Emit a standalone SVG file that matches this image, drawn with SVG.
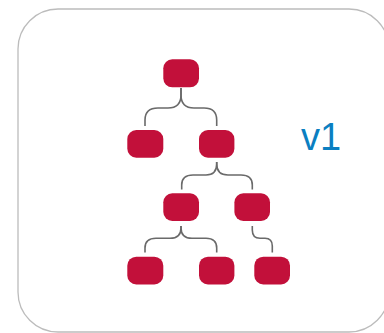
<svg xmlns="http://www.w3.org/2000/svg" width="384" height="333" viewBox="0 0 384 333">
  <style>
    .frame { fill: #ffffff; stroke: #bcbcbc; stroke-width: 1.3; }
    .node { fill: #c2103a; }
    .link { fill: none; stroke: #6a6a6a; stroke-width: 1.6; }
    .label { font-family: "Liberation Sans", Arial, sans-serif; font-size: 38px; fill: #0b7fc1; }
  </style>
  <rect width="384" height="333" fill="#ffffff"/>
  <rect class="frame" x="18" y="9" width="371" height="323" rx="40" ry="40"/>

  <g id="connectors">
    <!-- root to second level -->
    <path class="link" d="M181 88 V95 Q181 108 168 108 H158 Q145 108 145 120 V126"/>
    <path class="link" d="M181 88 V95 Q181 108 194 108 H204 Q216.7 108 216.7 120 V126"/>
    <!-- right second-level node to third level -->
    <path class="link" d="M216.7 162 V164 Q216.7 175 206 175 H193 Q181.7 175 181.7 185 V189.5"/>
    <path class="link" d="M216.7 162 V164 Q216.7 175 228 175 H241 Q252.3 175 252.3 185 V189.5"/>
    <!-- left third-level node to leaves -->
    <path class="link" d="M181 226 V228 Q181 238.3 170 238.3 H156 Q145 238.3 145 248 V252.5"/>
    <path class="link" d="M181 226 V228 Q181 238.3 192 238.3 H206 Q216.7 238.3 216.7 248 V252.5"/>
    <!-- right third-level node to its single leaf -->
    <path class="link" d="M252.3 226 V230 Q252.3 238.3 260 238.3 H265 Q272.3 238.3 272.3 246 V252.5"/>
  </g>

  <g id="node-root"><rect class="node" x="163.3" y="59.3" width="35.7" height="28" rx="9"/></g>
  <g id="node-l2-left"><rect class="node" x="127.3" y="130" width="36" height="27.7" rx="9"/></g>
  <g id="node-l2-right"><rect class="node" x="199" y="130" width="35.4" height="27.7" rx="9"/></g>
  <g id="node-l3-left"><rect class="node" x="163.3" y="193.3" width="35.7" height="27.7" rx="9"/></g>
  <g id="node-l3-right"><rect class="node" x="234.4" y="193.3" width="35.6" height="27.7" rx="9"/></g>
  <g id="node-leaf-1"><rect class="node" x="127.3" y="256.7" width="36" height="27.7" rx="9"/></g>
  <g id="node-leaf-2"><rect class="node" x="199" y="256.7" width="35.4" height="27.7" rx="9"/></g>
  <g id="node-leaf-3"><rect class="node" x="254.3" y="256.7" width="35.7" height="27.7" rx="9"/></g>

  <g id="version-label">
    <text class="label" x="301" y="150">v1</text>
  </g>
</svg>
